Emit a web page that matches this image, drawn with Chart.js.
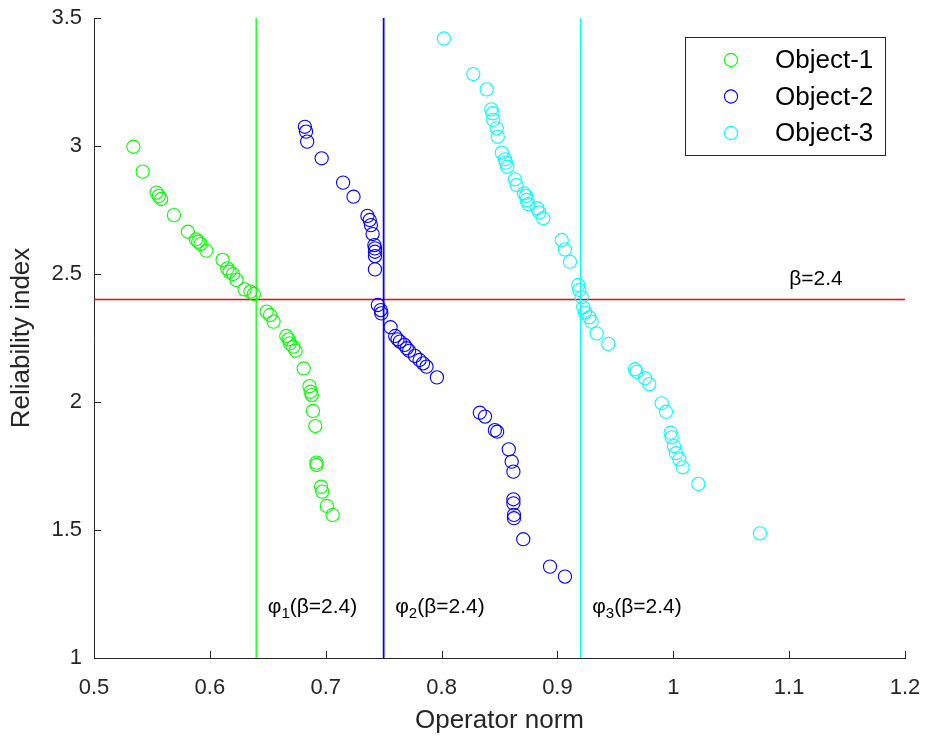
<!DOCTYPE html>
<html><head><meta charset="utf-8">
<script src="https://cdn.jsdelivr.net/npm/chart.js@4.4.0/dist/chart.umd.min.js"></script>
<style>html,body{margin:0;padding:0;background:#fff}#wrap{width:926px;height:740px}</style>
</head><body><div id="wrap"><canvas id="c" width="926" height="740"></canvas></div>
<script>
// ---- data ----
const seriesNames = ['Object-1', 'Object-2', 'Object-3'];
const seriesColors = ['#00ff00', '#0000ff', '#00ffff'];

const obj1X = [0.534,0.542,0.554,0.556,0.558,0.569,0.581,0.588,0.590,0.592,0.597,0.611,0.615,0.617,0.620,0.623,0.630,0.635,0.638,0.649,0.652,0.655,0.666,0.668,0.669,0.672,0.674,0.681,0.686,0.687,0.688,0.689,0.691,0.692,0.692,0.696,0.697,0.701,0.706];
const obj1Y = [2.997,2.90,2.818,2.805,2.793,2.73,2.665,2.635,2.626,2.617,2.591,2.555,2.522,2.509,2.50,2.477,2.44,2.431,2.422,2.353,2.34,2.314,2.258,2.245,2.229,2.216,2.20,2.131,2.062,2.04,2.027,1.965,1.906,1.763,1.754,1.669,1.65,1.594,1.559];

const obj2X = [0.682,0.683,0.684,0.6965,0.715,0.724,0.736,0.738,0.739,0.7405,0.742,0.7425,0.7425,0.7425,0.7425,0.745,0.7475,0.748,0.756,0.760,0.762,0.764,0.768,0.770,0.772,0.777,0.781,0.784,0.787,0.796,0.833,0.8375,0.846,0.848,0.858,0.8605,0.862,0.862,0.862,0.8625,0.8625,0.8705,0.8936,0.9065];
const obj2Y = [3.075,3.056,3.017,2.952,2.857,2.802,2.727,2.711,2.691,2.656,2.613,2.60,2.587,2.57,2.518,2.379,2.359,2.346,2.292,2.258,2.245,2.236,2.223,2.21,2.20,2.18,2.164,2.151,2.138,2.096,1.958,1.943,1.89,1.884,1.815,1.767,1.728,1.62,1.604,1.559,1.546,1.464,1.357,1.318];

const obj3X = [0.802,0.8274,0.839,0.843,0.844,0.8446,0.8476,0.8485,0.852,0.8548,0.8556,0.8567,0.8634,0.8648,0.8711,0.8729,0.8735,0.8749,0.8826,0.8843,0.8878,0.9037,0.9065,0.9108,0.918,0.9189,0.9209,0.9223,0.9238,0.9275,0.9295,0.9339,0.9439,0.967,0.9684,0.9756,0.9793,0.990,0.9937,0.9977,0.9986,1.0006,1.0023,1.0052,1.0081,1.0216,1.0748];
const obj3Y = [3.42,3.281,3.221,3.143,3.128,3.102,3.069,3.036,2.974,2.948,2.935,2.919,2.87,2.848,2.815,2.805,2.789,2.773,2.757,2.74,2.718,2.633,2.596,2.548,2.457,2.4375,2.409,2.37,2.349,2.331,2.314,2.268,2.227,2.128,2.118,2.093,2.07,1.995,1.962,1.88,1.862,1.828,1.80,1.776,1.745,1.68,1.487];

const phiValues = [0.64, 0.75, 0.92];       // operator norm where beta = 2.4
const phiLabelX = [0.65, 0.76, 0.93];
const phiLabelY = 1.2;
const betaLevel = 2.4;
const betaLabelX = 1.1;
const betaLabelY = 2.48;

const xTicks = [0.5, 0.6, 0.7, 0.8, 0.9, 1.0, 1.1, 1.2];
const xTickLabels = ['0.5', '0.6', '0.7', '0.8', '0.9', '1', '1.1', '1.2'];
const yTicks = [1, 1.5, 2, 2.5, 3, 3.5];
const yTickLabels = ['1', '1.5', '2', '2.5', '3', '3.5'];

// ---- build ----
const FONT = "'Liberation Sans', Arial, Helvetica, sans-serif";
const AXIS = '#262626';
const zip = (xs, ys) => xs.map((x, i) => ({x, y: ys[i]}));
const objXs = [obj1X, obj2X, obj3X];
const objYs = [obj1Y, obj2Y, obj3Y];

const datasets = [];
seriesNames.forEach((name, i) => {
  datasets.push({
    label: name, isSeries: true,
    data: zip(objXs[i], objYs[i]),
    borderColor: seriesColors[i], backgroundColor: 'rgba(0,0,0,0)',
    pointStyle: 'circle', pointRadius: 6.6, pointBorderWidth: 1.1, showLine: false
  });
});
phiValues.forEach((v, i) => {
  datasets.push({
    label: 'phi' + (i + 1), data: [{x: v, y: yTicks[0]}, {x: v, y: yTicks[yTicks.length - 1]}],
    borderColor: seriesColors[i], borderWidth: i === 1 ? 1.8 : 1.3, pointRadius: 0, showLine: true
  });
});
datasets.push({
  label: 'beta', data: [{x: xTicks[0], y: betaLevel}, {x: xTicks[xTicks.length - 1], y: betaLevel}],
  borderColor: '#ff0000', borderWidth: 1.5, pointRadius: 0, showLine: true
});

const decor = {
  id: 'decor',
  afterDraw(chart) {
    const {ctx, chartArea: ca, scales: {x, y}} = chart;
    ctx.save();
    // inward ticks
    ctx.strokeStyle = AXIS; ctx.lineWidth = 1;
    ctx.beginPath();
    xTicks.forEach(v => { const px = Math.round(x.getPixelForValue(v)) + 0.5; ctx.moveTo(px, ca.bottom); ctx.lineTo(px, ca.bottom - 7); });
    yTicks.forEach(v => { const py = Math.round(y.getPixelForValue(v)) + 0.5; ctx.moveTo(ca.left, py); ctx.lineTo(ca.left + 7, py); });
    ctx.stroke();
    // annotations
    ctx.fillStyle = '#000';
    ctx.textBaseline = 'middle'; ctx.textAlign = 'left';
    ctx.font = '21px ' + FONT;
    ctx.fillText('β=' + betaLevel, x.getPixelForValue(betaLabelX), y.getPixelForValue(betaLabelY));
    phiLabelX.forEach((lx, i) => {
      let px = x.getPixelForValue(lx); const py = y.getPixelForValue(phiLabelY);
      ctx.font = '21px ' + FONT; ctx.fillText('φ', px, py); px += ctx.measureText('φ').width;
      ctx.font = '15px ' + FONT; ctx.fillText(String(i + 1), px, py + 7); px += ctx.measureText(String(i + 1)).width;
      ctx.font = '21px ' + FONT; ctx.fillText('(β=' + betaLevel + ')', px, py);
    });
    // legend
    const lx = ca.right - 220, ly = ca.top + 19, lw = 200, lh = 118;
    ctx.fillStyle = '#fff'; ctx.fillRect(lx, ly, lw, lh);
    ctx.strokeStyle = AXIS; ctx.lineWidth = 1; ctx.strokeRect(lx + 0.5, ly + 0.5, lw, lh);
    chart.data.datasets.filter(d => d.isSeries).forEach((d, i) => {
      const cy = ly + 23 + i * 36.5;
      ctx.beginPath(); ctx.strokeStyle = d.borderColor; ctx.lineWidth = 1.1;
      ctx.arc(lx + 46, cy, 6.6, 0, Math.PI * 2); ctx.stroke();
      ctx.fillStyle = '#000'; ctx.font = '26px ' + FONT; ctx.textAlign = 'left'; ctx.textBaseline = 'middle';
      ctx.fillText(d.label, lx + 90, cy + 1);
    });
    ctx.restore();
  }
};

new Chart(document.getElementById('c'), {
  type: 'scatter',
  data: {datasets},
  options: {
    responsive: false, animation: false, devicePixelRatio: 1,
    layout: {padding: {left: 0, right: 21, top: 18, bottom: 0}},
    plugins: {legend: {display: false}, tooltip: {enabled: false}},
    scales: {
      x: {
        type: 'linear', position: 'bottom', min: xTicks[0], max: xTicks[xTicks.length - 1],
        afterBuildTicks: s => { s.ticks = xTicks.map(v => ({value: v})); },
        afterFit: s => { s.height = 82; s.paddingLeft = 0; s.paddingRight = 0; s.paddingTop = 0; s.paddingBottom = 0; },
        border: {display: true, color: AXIS, width: 1},
        grid: {display: false, drawTicks: false},
        ticks: {color: AXIS, font: {family: FONT, size: 22}, padding: 17, maxRotation: 0, autoSkip: false,
                callback: (v, i) => xTickLabels[i]},
        title: {display: true, text: 'Operator norm', color: AXIS, font: {family: FONT, size: 26}, padding: {top: 0, bottom: 4}}
      },
      y: {
        type: 'linear', position: 'left', min: yTicks[0], max: yTicks[yTicks.length - 1],
        afterBuildTicks: s => { s.ticks = yTicks.map(v => ({value: v})); },
        afterFit: s => { s.width = 94; s.paddingLeft = 0; s.paddingRight = 0; s.paddingTop = 0; s.paddingBottom = 0; },
        border: {display: true, color: AXIS, width: 1},
        grid: {display: false, drawTicks: false},
        ticks: {color: AXIS, font: {family: FONT, size: 22}, padding: 12, autoSkip: false,
                callback: (v, i) => yTickLabels[i]},
        title: {display: true, text: 'Reliability index', color: AXIS, font: {family: FONT, size: 26}, padding: {top: 6, bottom: 0}}
      }
    }
  },
  plugins: [decor]
});
</script>
</body></html>
